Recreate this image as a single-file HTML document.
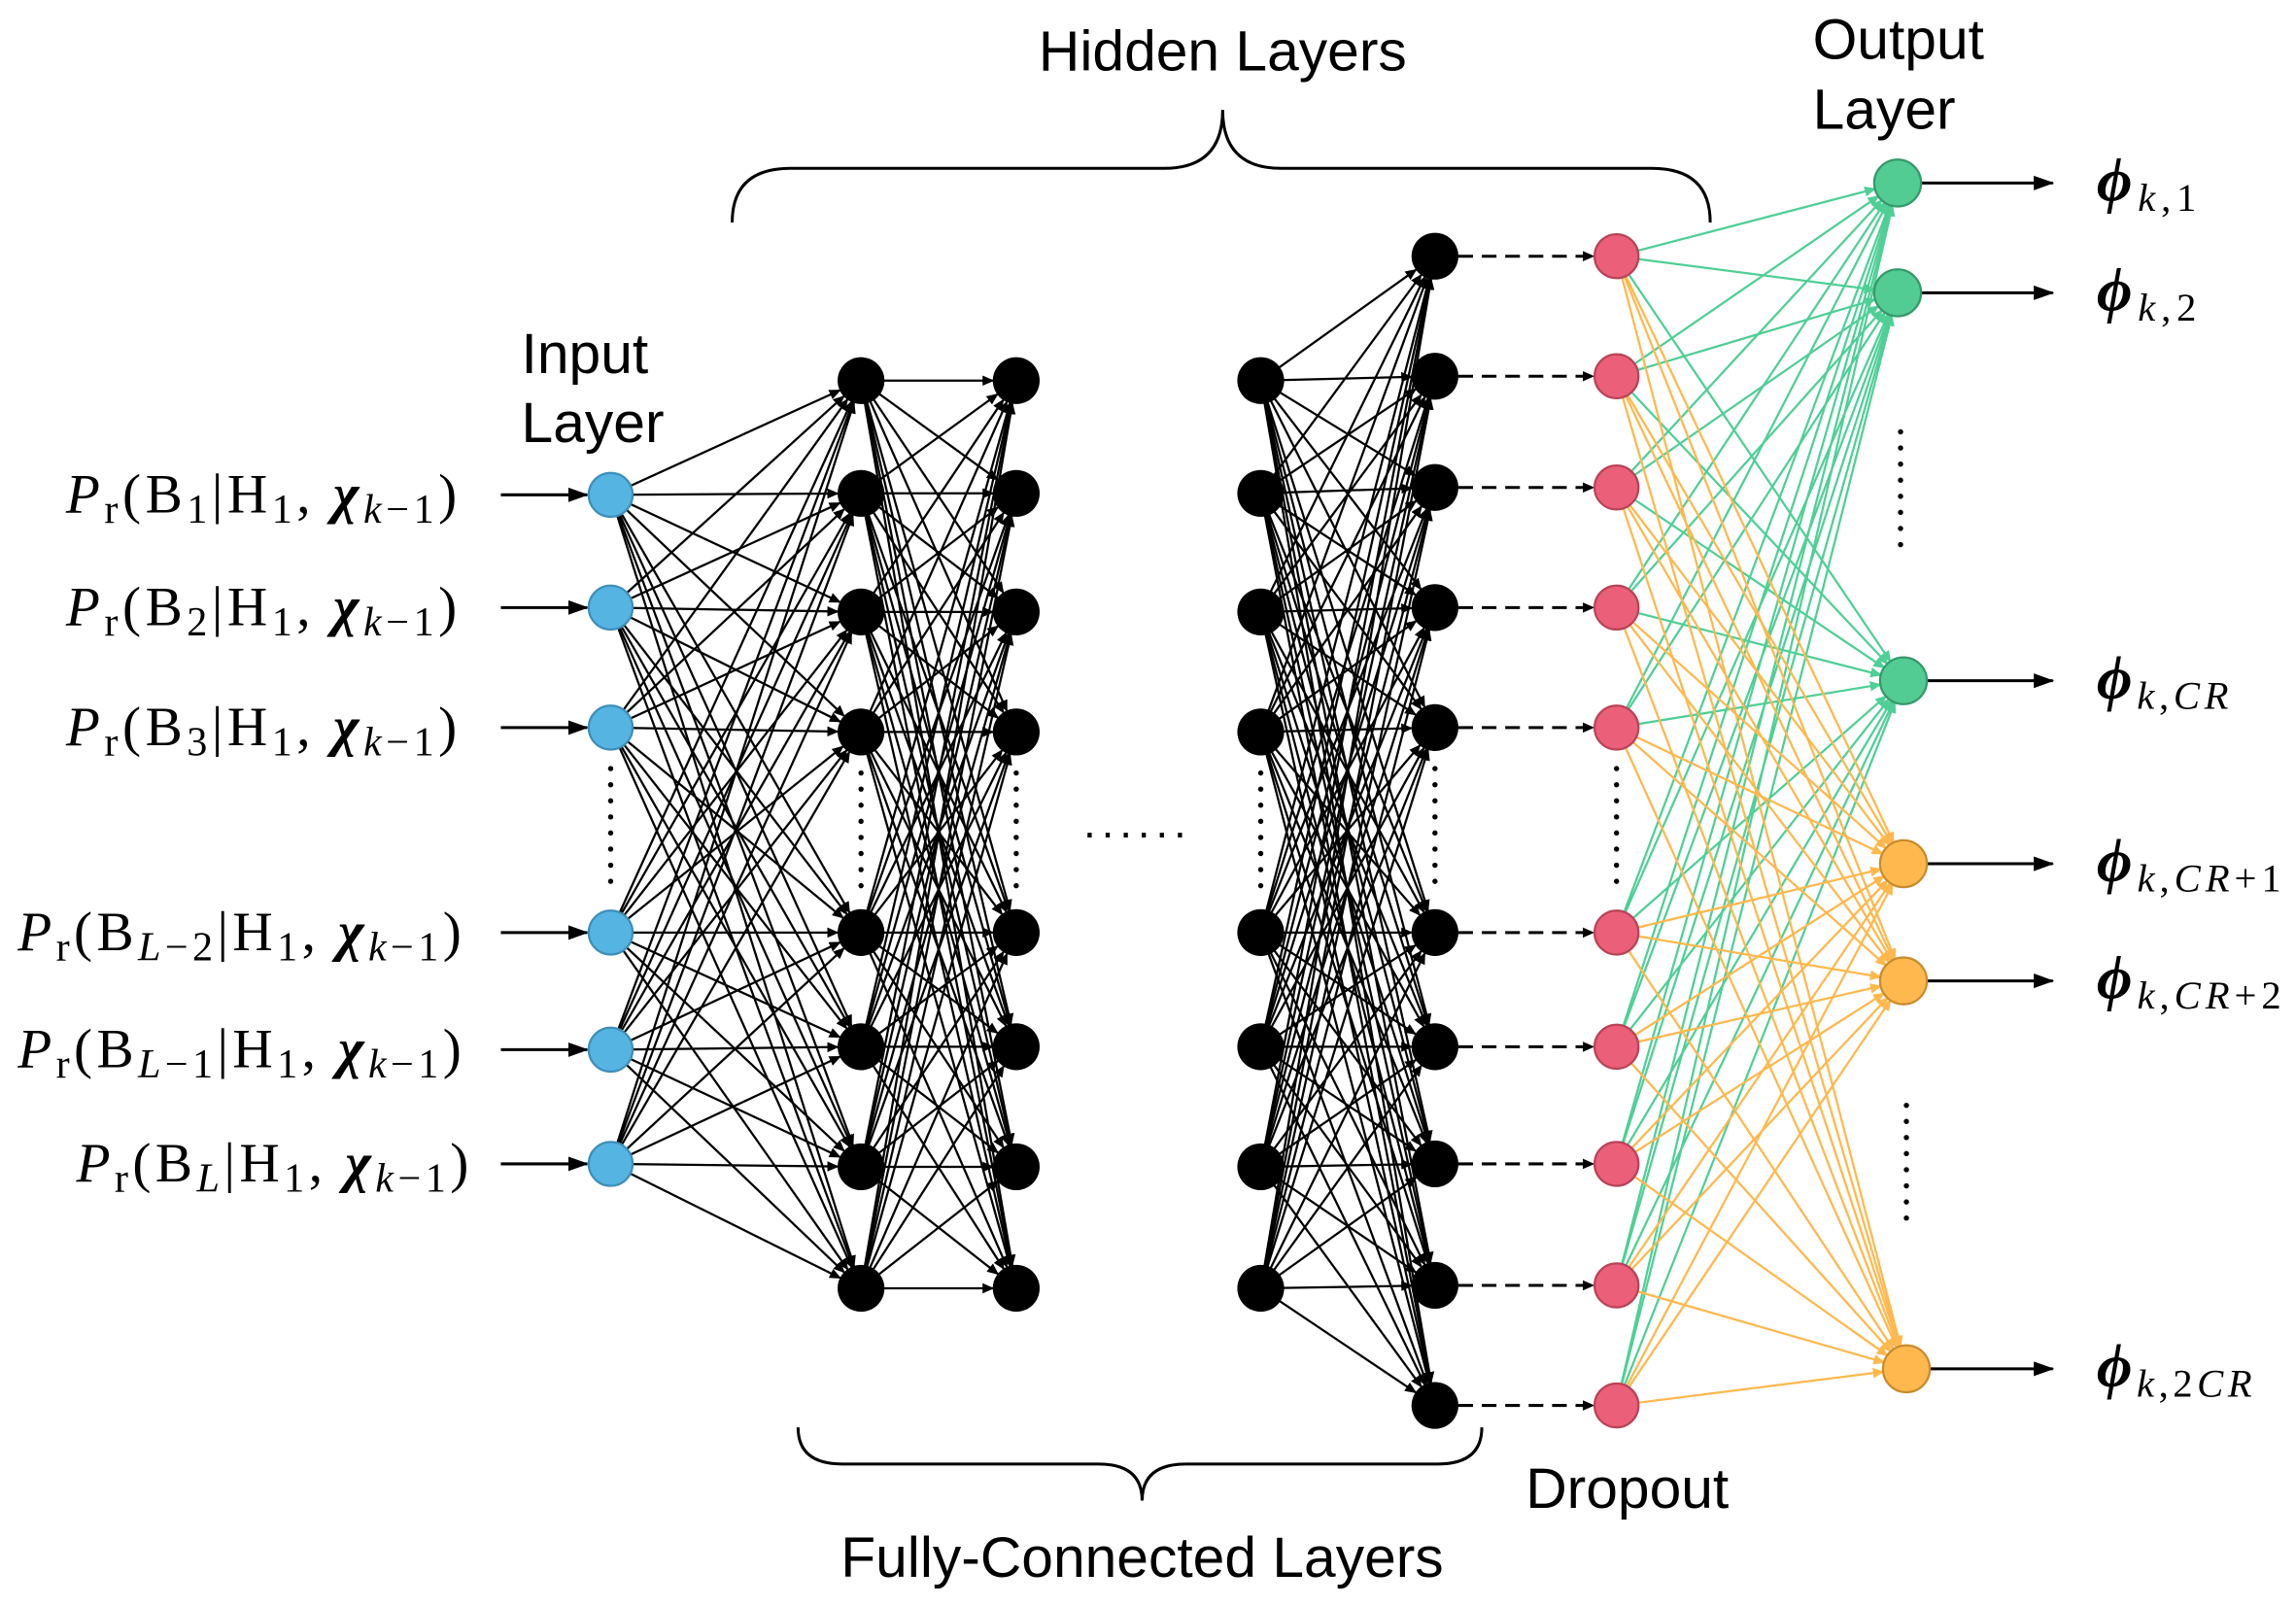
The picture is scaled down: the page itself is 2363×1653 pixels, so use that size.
<!DOCTYPE html>
<html><head><meta charset="utf-8"><style>
html,body{margin:0;padding:0;background:#fff;}
svg{display:block}
.lbl{font-family:"Liberation Sans",sans-serif;font-size:39px;fill:#000}
.f{font-family:"Liberation Serif",serif;font-size:38px;fill:#000}
</style></head><body>
<svg id="s" width="2363" height="1653" viewBox="0 0 1568 1097" xmlns="http://www.w3.org/2000/svg">
<defs>
<marker id="ab" markerWidth="8" markerHeight="8" refX="7" refY="4" orient="auto" markerUnits="userSpaceOnUse"><path d="M0,0.5 L8,4 L0,7.5z" fill="#000"/></marker>
<marker id="ag" markerWidth="8" markerHeight="8" refX="7" refY="4" orient="auto" markerUnits="userSpaceOnUse"><path d="M0,0.5 L8,4 L0,7.5z" fill="#4fcf96"/></marker>
<marker id="ao" markerWidth="8" markerHeight="8" refX="7" refY="4" orient="auto" markerUnits="userSpaceOnUse"><path d="M0,0.5 L8,4 L0,7.5z" fill="#ffb84d"/></marker>
<marker id="big" markerWidth="14" markerHeight="12" refX="13" refY="6" orient="auto" markerUnits="userSpaceOnUse"><path d="M0,1 L14,6 L0,11z" fill="#000"/></marker>
</defs>
<g id="lines"></g>
<g id="nodes"></g>
<g id="txt">
<text class="lbl" x="835" y="48" text-anchor="middle">Hidden Layers</text>
<text class="lbl" x="1238" y="40">Output</text>
<text class="lbl" x="1238" y="88">Layer</text>
<text class="lbl" x="356" y="255">Input</text>
<text class="lbl" x="356" y="302">Layer</text>
<text class="lbl" x="1042" y="1030">Dropout</text>
<text class="lbl" x="780" y="1077" text-anchor="middle">Fully-Connected Layers</text>
</g>
<path d="M500,152 Q500,115 540,115 L795,115 Q835,115 835,75 Q835,115 875,115 L1128,115 Q1168,115 1168,152" fill="none" stroke="#000" stroke-width="2"/>
<path d="M545,975 Q545,1000 575,1000 L750,1000 Q780,1000 780,1025 Q780,1000 810,1000 L982,1000 Q1012,1000 1012,975" fill="none" stroke="#000" stroke-width="2"/>
<text x="740" y="572" font-size="30" font-family="Liberation Sans" letter-spacing="4">......</text>
</svg>
<script>
var NS="http://www.w3.org/2000/svg";
var L=document.getElementById('lines'),N=document.getElementById('nodes'),S=document.getElementById('s');
function el(p,t,a){var e=document.createElementNS(NS,t);for(var k in a)e.setAttribute(k,a[k]);p.appendChild(e);return e;}
var inY=[338,415,497,637,717,795],hY=[260,337,418,500,637,715,797,880],l4Y=[175,257,333,415,497,637,715,795,878,960];
var outG=[[1296,125],[1296,200],[1300,465]],outO=[[1300,590],[1300,670],[1302,935]];
function conn(x1,ys1,x2,ys2,r,col,m,w){ys1.forEach(function(a){ys2.forEach(function(b){
 var dx=x2-x1,dy=b-a,d=Math.sqrt(dx*dx+dy*dy);
 el(L,'line',{x1:x1,y1:a,x2:x2-dx/d*r,y2:b-dy/d*r,stroke:col,'stroke-width':w,'marker-end':m});});});}
conn(417,inY,588,hY,16,'#000','url(#ab)',1.5);
conn(588,hY,694,hY,16,'#000','url(#ab)',1.5);
conn(861,hY,980,l4Y,16,'#000','url(#ab)',1.5);
l4Y.forEach(function(y){el(L,'line',{x1:996,y1:y,x2:1088,y2:y,stroke:'#000','stroke-width':2,'stroke-dasharray':'10,6','marker-end':'url(#ab)'});});
l4Y.forEach(function(y){outG.forEach(function(o){var dx=o[0]-1104,dy=o[1]-y,d=Math.hypot(dx,dy);el(L,'line',{x1:1104,y1:y,x2:o[0]-dx/d*16,y2:o[1]-dy/d*16,stroke:'#4fcf96','stroke-width':1.5,'marker-end':'url(#ag)'});});});
l4Y.forEach(function(y){outO.forEach(function(o){var dx=o[0]-1104,dy=o[1]-y,d=Math.hypot(dx,dy);el(L,'line',{x1:1104,y1:y,x2:o[0]-dx/d*16,y2:o[1]-dy/d*16,stroke:'#ffb84d','stroke-width':1.5,'marker-end':'url(#ao)'});});});
inY.forEach(function(y){el(L,'line',{x1:342,y1:y,x2:401,y2:y,stroke:'#000','stroke-width':2,'marker-end':'url(#big)'});});
outG.concat(outO).forEach(function(o){el(L,'line',{x1:o[0]+16,y1:o[1],x2:1402,y2:o[1],stroke:'#000','stroke-width':2,'marker-end':'url(#big)'});});
inY.forEach(function(y){el(N,'circle',{cx:417,cy:y,r:15,fill:'#56b4e3',stroke:'#3e8fb8','stroke-width':1.5});});
[588,694,861].forEach(function(x){hY.forEach(function(y){el(N,'circle',{cx:x,cy:y,r:16,fill:'#000'});});});
l4Y.forEach(function(y){el(N,'circle',{cx:980,cy:y,r:16,fill:'#000'});el(N,'circle',{cx:1104,cy:y,r:15,fill:'#ec5f78',stroke:'#b84458','stroke-width':1.5});});
outG.forEach(function(o){el(N,'circle',{cx:o[0],cy:o[1],r:16,fill:'#52cc92',stroke:'#36996a','stroke-width':1.5});});
outO.forEach(function(o){el(N,'circle',{cx:o[0],cy:o[1],r:16,fill:'#ffb84d',stroke:'#c98b2d','stroke-width':1.5});});
function dots(x,y1,y2){for(var y=y1;y<=y2;y+=11)el(N,'circle',{cx:x,cy:y,r:1.8,fill:'#000'});}
dots(417,525,605);dots(588,528,610);dots(694,528,610);dots(861,528,610);dots(980,525,610);dots(1104,525,605);dots(1298,295,378);dots(1302,755,835);
var fm=[["1",""],["2",""],["3",""],["L−2","i"],["L−1","i"],["L","i"]];
var fx=[45,45,45,12,12,52],fe=[312,312,312,315,315,320];
fm.forEach(function(f,i){var t=el(S,'text',{'class':'f',x:fx[i],y:inY[i]+12,textLength:fe[i]-fx[i],lengthAdjust:'spacing'});
 var sub=f[1]?'<tspan font-style="italic">'+f[0].replace('−','</tspan>−<tspan>')+'</tspan>':f[0];
 t.innerHTML='<tspan font-style="italic">P</tspan><tspan font-size="28" dy="7">r</tspan><tspan dy="-7">(B</tspan><tspan font-size="28" dy="7">'+sub+'</tspan><tspan dy="-7">|H</tspan><tspan font-size="28" dy="7">1</tspan><tspan dy="-7">, </tspan><tspan font-weight="bold" font-style="italic">χ</tspan><tspan font-size="28" dy="7"><tspan font-style="italic">k</tspan>−1</tspan><tspan dy="-7">)</tspan>';});
var ol=[["1",125,1500],["2",200,1500],["CR",465,1522],["CR+1",590,1558],["CR+2",670,1558],["2CR",935,1538]];
ol.forEach(function(o){var t=el(S,'text',{'class':'f',x:1432,y:o[1]+12,textLength:o[2]-1432,lengthAdjust:'spacing'});
 t.innerHTML='<tspan font-weight="bold" font-style="italic" font-size="42">ϕ</tspan><tspan font-size="27" dy="7"><tspan font-style="italic">k</tspan>,'+o[0].replace(/CR/,'<tspan font-style="italic">CR</tspan>')+'</tspan>';});
</script>
</body></html>
